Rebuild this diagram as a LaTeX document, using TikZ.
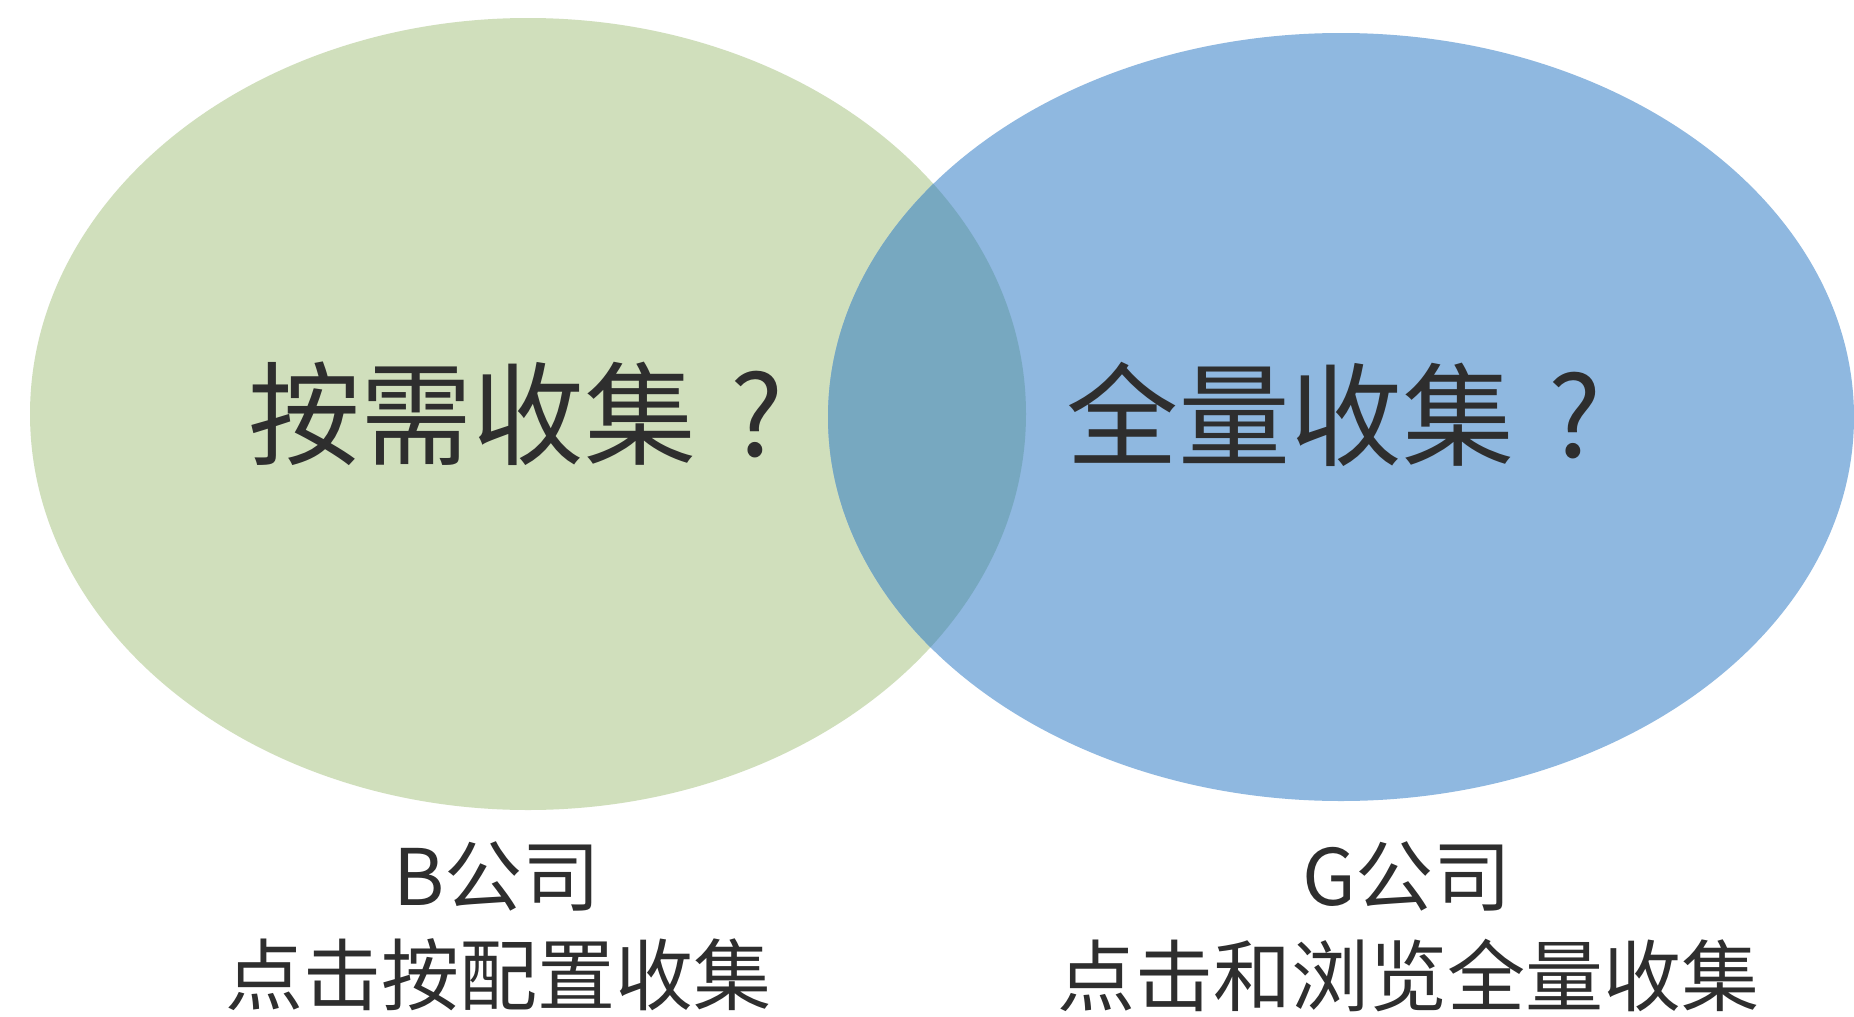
\documentclass[tikz,border=0pt]{standalone}
\usepackage{fontspec}
\newfontfamily\cjk{Noto Sans CJK SC}
\definecolor{greenset}{HTML}{D0DFBC}
\definecolor{blueset}{HTML}{8FB8E0}
\definecolor{overlapset}{HTML}{77A8C0}
\definecolor{inkgray}{HTML}{2E2E2E}
\begin{document}
\begin{tikzpicture}[x=0.5pt,y=-0.5pt,
  bigtext/.style={font=\cjk\fontsize{56pt}{62pt}\selectfont, text=inkgray, inner sep=0pt, anchor=west},
  labeltext/.style={font=\cjk\fontsize{39pt}{50pt}\selectfont, text=inkgray, inner sep=0pt, align=center}]
  \fill[white] (0,0) rectangle (1854,1017);
  \useasboundingbox (0,0) rectangle (1854,1017);
  % sets
  \fill[greenset] (528,414) ellipse [x radius=249pt, y radius=198pt];
  \fill[blueset] (1341,417) ellipse [x radius=256.5pt, y radius=192pt];
  \begin{scope}
    \clip (528,414) ellipse [x radius=249pt, y radius=198pt];
    \fill[overlapset] (1341,417) ellipse [x radius=256.5pt, y radius=192pt];
  \end{scope}
  % texts
  \node[bigtext] (ondemand) at (248,414) {按需收集\kern0.3em?};
  \node[bigtext] (full) at (1066,414) {全量收集\kern0.3em?};
  \node[labeltext] (bco) at (497,876) {B公司};
  \node[labeltext] (bdesc) at (498,975) {点击按配置收集};
  \node[labeltext] (gco) at (1407,876) {G公司};
  \node[labeltext] (gdesc) at (1408,975) {点击和浏览全量收集};
\end{tikzpicture}
\end{document}
